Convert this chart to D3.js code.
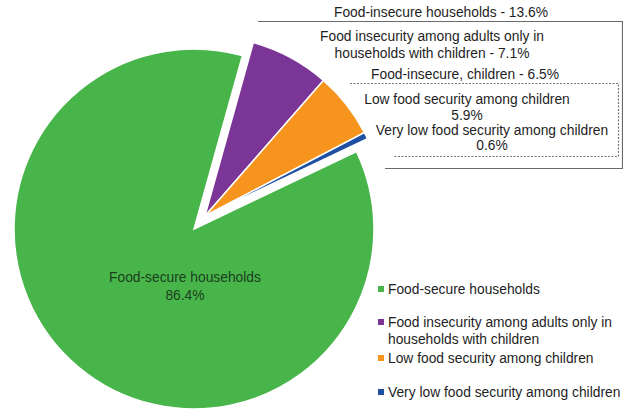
<html>
<head>
    <script src="https://d3js.org/d3.v7.min.js" charset="utf-8"></script>
    <style>
        body { margin: 0; background: #ffffff; }
        text { font-family: "Liberation Sans", Arial, sans-serif; }
    </style>
</head>

<body>
    <script type="text/javascript">
        var width = 623;
        var height = 409;

        // Chart data
        const categories = [
            "Food-secure households",
            "Food insecurity among adults only in households with children",
            "Low food security among children",
            "Very low food security among children"
        ];
        const shares = [86.4, 7.1, 5.9, 0.6];
        const colors = ["#48b54a", "#7b3597", "#f7941d", "#1f4fa0"];

        const legendLines = [
            ["Food-secure households"],
            ["Food insecurity among adults only in", "households with children"],
            ["Low food security among children"],
            ["Very low food security among children"]
        ];
        const sliceLabels = [
            ["Food-secure households", "86.4%"],
            ["Food insecurity among adults only in", "households with children - 7.1%"],
            ["Low food security among children", "5.9%"],
            ["Very low food security among children", "0.6%"]
        ];
        const groupLabels = ["Food-insecure households - 13.6%", "Food-insecure, children - 6.5%"];

        var fontSize = 13.8;

        const svg = d3.select("body").append("svg")
            .attr("width", width)
            .attr("height", height);

        var cx = 194, cy = 229, radius = 180;

        var data = categories.map((c, i) => ({ name: c, value: shares[i], color: colors[i], idx: i }));
        // draw order: insecure slices first, food-secure last (clockwise)
        var pieOrder = [data[1], data[2], data[3], data[0]];

        var startAngle = 15.6 * Math.PI / 180;
        var pie = d3.pie()
            .value(d => d.value)
            .sort(null)
            .startAngle(startAngle)
            .endAngle(startAngle + 2 * Math.PI);

        var arc = d3.arc().innerRadius(0).outerRadius(radius);

        // exploded group of food-insecure slices
        var explodeAngle = 40 * Math.PI / 180;
        var explode = 17;
        var ex = Math.sin(explodeAngle) * explode, ey = -Math.cos(explodeAngle) * explode;

        const g = svg.append("g")
            .attr("transform", `translate(${cx},${cy})`);

        g.selectAll("path")
            .data(pie(pieOrder))
            .join("path")
                .attr("d", arc)
                .attr("transform", d => d.data.idx === 0 ? null : `translate(${ex},${ey})`)
                .attr("fill", d => d.data.color)
                .attr("stroke", "#ffffff")
                .attr("stroke-width", 1.5);

        // pie label for food-secure
        svg.append("text")
            .attr("x", 185)
            .attr("y", 277)
            .attr("text-anchor", "middle")
            .attr("font-size", fontSize)
            .attr("fill", "#1b3f1d")
            .selectAll("tspan")
            .data(sliceLabels[0])
            .join("tspan")
                .attr("x", 185)
                .attr("dy", (d, i) => i === 0 ? "0.35em" : "1.3em")
                .text(d => d);

        // callout boxes
        svg.append("path")
            .attr("d", "M258,21.5H622.5V168.5H385")
            .attr("fill", "none")
            .attr("stroke", "#6a6a6a")
            .attr("stroke-width", 1.2);

        svg.append("path")
            .attr("d", "M350,83.5H618.5V156.5H393")
            .attr("fill", "none")
            .attr("stroke", "#777")
            .attr("stroke-width", 1.2)
            .attr("stroke-dasharray", "2,1.5");

        var labelPos = [
            { x: 441, y: [12], text: [groupLabels[0]] },
            { x: 432, y: [36, 53], text: sliceLabels[1] },
            { x: 465, y: [74], text: [groupLabels[1]] },
            { x: 467, y: [99, 115], text: sliceLabels[2] },
            { x: 492, y: [130, 145], text: sliceLabels[3] }
        ];

        labelPos.forEach(l => {
            l.text.forEach((t, i) => {
                svg.append("text")
                    .attr("x", l.x)
                    .attr("y", l.y[i])
                    .attr("dy", "0.35em")
                    .attr("text-anchor", "middle")
                    .attr("font-size", fontSize)
                    .attr("fill", "#1e1e1e")
                    .text(t);
            });
        });

        // legend
        var legendY = [289, 322, 358, 392];
        var legend = svg.append("g");
        data.forEach((d, i) => {
            legend.append("rect")
                .attr("x", 378)
                .attr("y", legendY[i] - 3)
                .attr("width", 6)
                .attr("height", 6)
                .attr("fill", d.color);
            legendLines[i].forEach((t, j) => {
                legend.append("text")
                    .attr("x", 388)
                    .attr("y", legendY[i] + j * 17.5)
                    .attr("dy", "0.35em")
                    .attr("font-size", fontSize)
                    .attr("fill", "#1e1e1e")
                    .text(t);
            });
        });
    </script>
</body>
</html>
